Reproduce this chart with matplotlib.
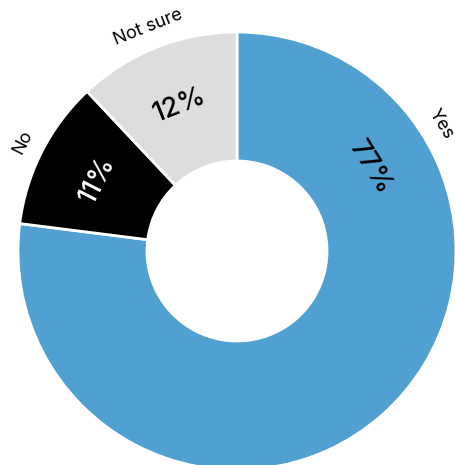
import numpy as np
import matplotlib
matplotlib.use("Agg")
import matplotlib.pyplot as plt

plt.rcParams['font.family'] = ['Inter', 'DejaVu Sans']

labels = ["Yes", "No", "Not sure"]
values = [77, 11, 12]
colors = ["#50a0d1", "#000000", "#dddddd"]
pct_colors = ["#000000", "#ffffff", "#000000"]
# the Yes slice has its labels up in the top right, not at the slice middle
label_angle = {"Yes": 32}

W, H = 455, 465
cx, cy = 237, 251
R, r_in = 219, 90

fig = plt.figure(figsize=(W / 100, H / 100), dpi=100)
ax = fig.add_axes([0, 0, 1, 1])

wedges, _ = ax.pie(values, colors=colors, startangle=90, counterclock=False,
                   radius=R, center=(0, 0),
                   wedgeprops=dict(width=R - r_in, edgecolor='white', linewidth=2))
ax.set_xlim(-cx, W - cx)
ax.set_ylim(-(H - cy), cy)
ax.set_aspect('equal')
ax.axis('off')

for w, lab, v, pc in zip(wedges, labels, values, pct_colors):
    mid = (w.theta1 + w.theta2) / 2
    ang = label_angle.get(lab, mid)
    a = np.deg2rad(ang)
    rot = ang - 90
    rm = (R + r_in) / 2 + 2
    ax.text(rm * np.cos(a), rm * np.sin(a), f"{v}%", color=pc, fontsize=19.5,
            fontweight='medium', rotation=rot, ha='center', va='center',
            rotation_mode='anchor')
    rl = R + 21
    ax.text(rl * np.cos(a), rl * np.sin(a), lab, color='black', fontsize=13,
            rotation=rot, ha='center', va='center', rotation_mode='anchor')

fig.savefig("out.png", dpi=100)
